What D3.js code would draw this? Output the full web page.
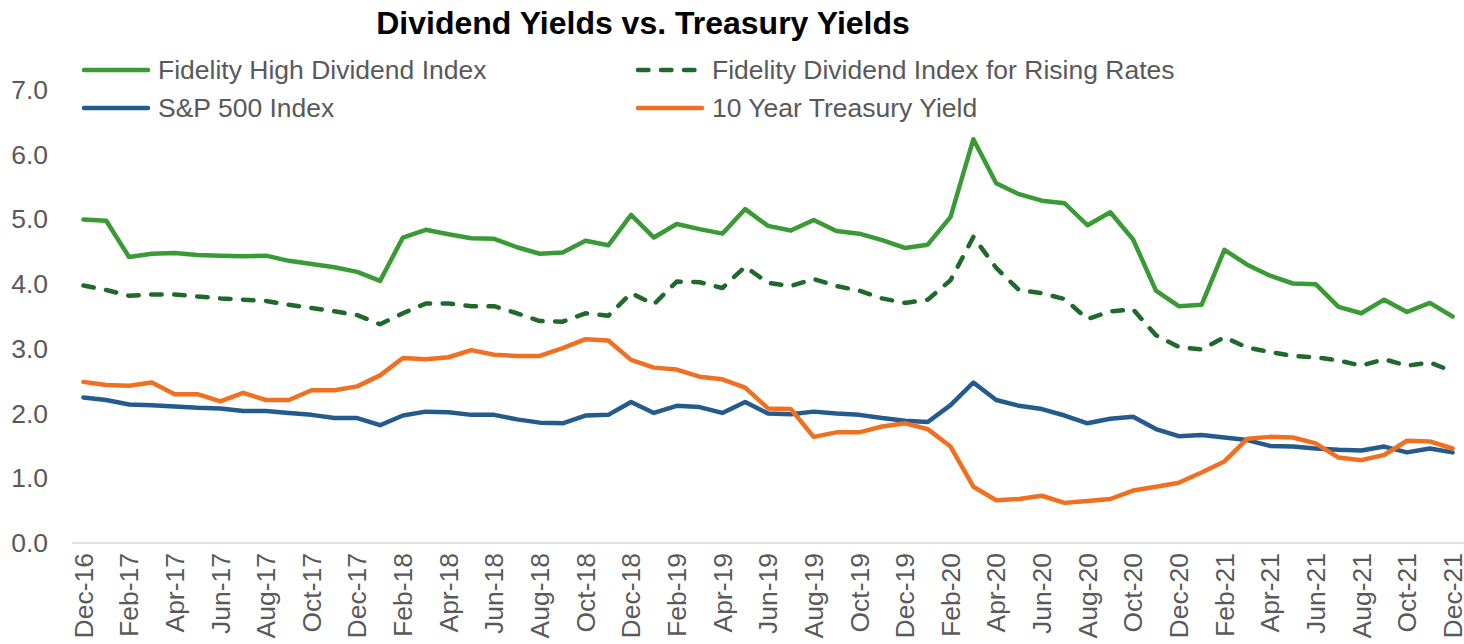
<!DOCTYPE html>
<html>
<head>
<meta charset="utf-8">
<script src="https://cdn.jsdelivr.net/npm/d3@7"></script>
<style>
  html, body { margin: 0; padding: 0; background: #fff; }
  svg { display: block; font-family: "Liberation Sans", Arial, sans-serif; }
</style>
</head>
<body>
<svg id="chart" width="1464" height="644"></svg>
<script>
const months = ["Dec-16","Jan-17","Feb-17","Mar-17","Apr-17","May-17","Jun-17","Jul-17","Aug-17","Sep-17","Oct-17","Nov-17",
"Dec-17","Jan-18","Feb-18","Mar-18","Apr-18","May-18","Jun-18","Jul-18","Aug-18","Sep-18","Oct-18","Nov-18",
"Dec-18","Jan-19","Feb-19","Mar-19","Apr-19","May-19","Jun-19","Jul-19","Aug-19","Sep-19","Oct-19","Nov-19",
"Dec-19","Jan-20","Feb-20","Mar-20","Apr-20","May-20","Jun-20","Jul-20","Aug-20","Sep-20","Oct-20","Nov-20",
"Dec-20","Jan-21","Feb-21","Mar-21","Apr-21","May-21","Jun-21","Jul-21","Aug-21","Sep-21","Oct-21","Nov-21","Dec-21"];

const highDividend = [5.00,4.98,4.42,4.47,4.48,4.45,4.44,4.43,4.44,4.36,4.31,4.26,
4.19,4.05,4.72,4.84,4.77,4.71,4.70,4.57,4.47,4.49,4.67,4.60,
5.07,4.72,4.93,4.85,4.78,5.16,4.90,4.83,4.99,4.82,4.78,4.68,
4.56,4.61,5.04,6.24,5.56,5.39,5.29,5.25,4.91,5.11,4.69,3.90,
3.66,3.68,4.53,4.30,4.13,4.01,4.00,3.65,3.55,3.76,3.57,3.71,3.50];

const risingRates = [3.98,3.91,3.82,3.84,3.84,3.81,3.78,3.76,3.74,3.68,3.63,3.58,
3.52,3.38,3.55,3.70,3.70,3.66,3.66,3.55,3.43,3.42,3.55,3.51,
3.86,3.69,4.04,4.03,3.94,4.27,4.02,3.97,4.08,3.97,3.90,3.78,
3.71,3.76,4.06,4.73,4.25,3.91,3.86,3.77,3.46,3.58,3.61,3.21,
3.03,2.99,3.18,3.02,2.95,2.89,2.87,2.82,2.74,2.84,2.74,2.79,2.65];

const sp500 = [2.25,2.21,2.14,2.13,2.11,2.09,2.08,2.04,2.04,2.01,1.98,1.93,
1.93,1.82,1.97,2.03,2.02,1.98,1.98,1.91,1.86,1.85,1.97,1.98,
2.18,2.01,2.12,2.10,2.01,2.18,2.00,1.99,2.03,2.00,1.98,1.93,
1.89,1.87,2.13,2.48,2.21,2.12,2.07,1.97,1.85,1.92,1.95,1.76,
1.65,1.67,1.63,1.59,1.50,1.49,1.46,1.44,1.43,1.49,1.40,1.46,1.40];

const treasury10y = [2.49,2.44,2.43,2.48,2.30,2.30,2.19,2.32,2.21,2.21,2.36,2.36,
2.42,2.59,2.86,2.84,2.87,2.98,2.91,2.89,2.89,3.01,3.15,3.13,
2.83,2.71,2.68,2.57,2.53,2.40,2.08,2.07,1.64,1.71,1.71,1.80,
1.85,1.76,1.49,0.87,0.66,0.68,0.73,0.62,0.65,0.68,0.81,0.87,
0.93,1.09,1.26,1.61,1.64,1.63,1.54,1.32,1.28,1.36,1.58,1.57,1.46];

const yTicks = [0,1,2,3,4,5,6,7];

const seriesNames = ["Fidelity High Dividend Index","Fidelity Dividend Index for Rising Rates","S&P 500 Index","10 Year Treasury Yield"];
const seriesColors = ["#3a9a35","#20692b","#245b8c","#f07021"];
const seriesValues = [highDividend, risingRates, sp500, treasury10y];

(function () {
const svg = d3.select("#chart");
const pLeft = 72, pRight = 1464, pTop = 90, pBottom = 543;
const fs = 26.5;

const x = d3.scalePoint().domain(months).range([pLeft, pRight]).padding(0.5);
const y = d3.scaleLinear().domain([0, 7]).range([pBottom, pTop]);

// title
svg.append("text").attr("x", 643).attr("y", 34).attr("text-anchor", "middle")
  .attr("font-size", 32).attr("font-weight", "bold").attr("fill", "#000")
  .text("Dividend Yields vs. Treasury Yields");

// y axis labels
const yAxis = d3.axisLeft(y).tickValues(yTicks).tickFormat(d3.format(".1f")).tickSize(0).tickPadding(0);
const gy = svg.append("g").attr("transform", `translate(48,0)`).call(yAxis);
gy.select(".domain").remove();
gy.selectAll("text").attr("font-size", fs).attr("fill", "#595959").attr("font-family", "Liberation Sans, Arial, sans-serif");

// baseline
svg.append("line").attr("x1", pLeft).attr("x2", pRight).attr("y1", y(0)).attr("y2", y(0))
  .attr("stroke", "#d9d9d9").attr("stroke-width", 1.5);

// x axis labels
const xAxis = d3.axisBottom(x).tickValues(months.filter((d, i) => i % 2 === 0)).tickSize(0).tickPadding(0);
const gx = svg.append("g").attr("transform", `translate(0,${pBottom})`).call(xAxis);
gx.select(".domain").remove();
gx.selectAll("text").attr("font-size", fs).attr("fill", "#595959")
  .attr("font-family", "Liberation Sans, Arial, sans-serif")
  .attr("text-anchor", "end").attr("dy", "0.33em")
  .attr("transform", "translate(0,10) rotate(-90)").attr("x", 0).attr("y", 0);

// lines
const line = d3.line().x((d, i) => x(months[i])).y(d => y(d));
seriesValues.forEach((vals, k) => {
  const p = svg.append("path").datum(vals).attr("d", line)
    .attr("fill", "none").attr("stroke", seriesColors[k]).attr("stroke-width", 4.5)
    .attr("stroke-linejoin", "round").attr("stroke-linecap", "round");
  if (k === 1) p.attr("stroke-dasharray", "10.5,12.5");
});

// legend
const legendPos = [[82, 70], [636, 70], [82, 108], [636, 108]];
seriesNames.forEach((name, k) => {
  const [lx, ly] = legendPos[k];
  const l = svg.append("line").attr("x1", lx + 2).attr("x2", lx + 66).attr("y1", ly).attr("y2", ly)
    .attr("stroke", seriesColors[k]).attr("stroke-width", 4.5).attr("stroke-linecap", "round");
  if (k === 1) l.attr("stroke-dasharray", "10.5,12.5");
  svg.append("text").attr("x", lx + 76).attr("y", ly).attr("dy", "0.35em")
    .attr("font-size", fs).attr("fill", "#595959").text(name);
});
})();
</script>
</body>
</html>
